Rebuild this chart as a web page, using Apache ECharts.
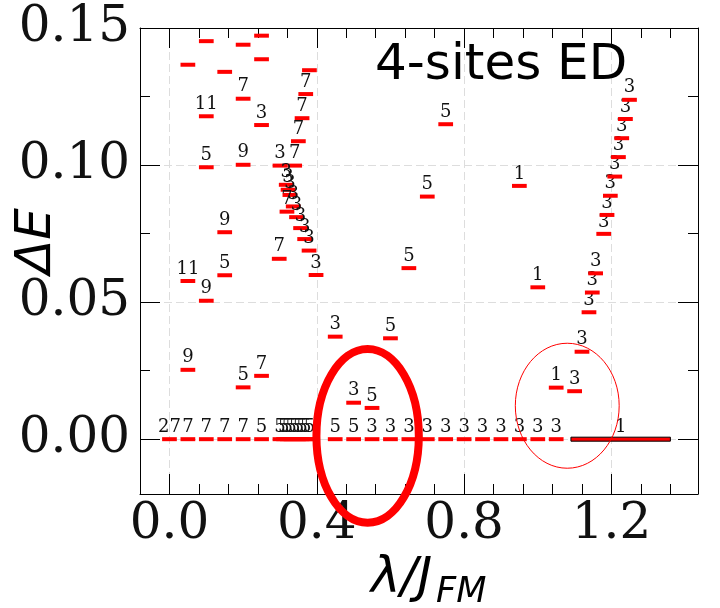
<!DOCTYPE html>
<html><head><meta charset="utf-8">
<script src="https://cdn.jsdelivr.net/npm/echarts@6/dist/echarts.min.js"></script>
<style>html,body{margin:0;padding:0;background:#fff}#c{width:720px;height:608px}</style>
</head><body><div id="c"></div>
<script>
// ---- axis ticks ----
const xTicks = [0, 0.4, 0.8, 1.2];
const xMinorTicks = [0.08, 0.16, 0.24, 0.32, 0.48, 0.56, 0.64, 0.72, 0.88, 0.96, 1.04, 1.12, 1.28, 1.36, 1.44];
const yTicks = [0, 0.05, 0.10, 0.15];
const yMinorTicks = [0.025, 0.075, 0.125];

// ---- ground-state levels (ΔE = 0) ----
const groundX = [0, 0.05, 0.10, 0.15, 0.20, 0.25, 0.30, 0.31, 0.32, 0.33, 0.34, 0.35, 0.36, 0.37, 0.38,
                 0.45, 0.50, 0.55, 0.60, 0.65, 0.70, 0.75, 0.80, 0.85, 0.90, 0.95, 1.00, 1.05];
const groundLabels = ['27', '7', '7', '7', '7', '5', '5', '5', '5', '5', '5', '5', '5', '5', '5',
                      '5', '5', '3', '3', '3', '3', '3', '3', '3', '3', '3', '3', '3'];
// wide ground-state segment [λ start, λ end, ΔE]
const wideGround = [1.09, 1.36, 0];
const wideGroundLabel = '1';

// ---- excited levels ----
const levelX = [0.10, 0.20, 0.25, 0.05, 0.15, 0.25, 0.38,
  0.37, 0.20, 0.10, 0.25, 0.36, 0.35, 0.10, 0.20, 0.30, 0.34,
  0.317, 0.322, 0.327, 0.336, 0.319, 0.345, 0.356, 0.367, 0.379, 0.398, 0.298,
  0.15, 0.15, 0.05, 0.10, 0.05, 0.20, 0.25,
  0.45, 0.50, 0.55, 0.60, 0.65, 0.70, 0.75,
  0.95, 1.00, 1.05,
  1.10, 1.12, 1.139, 1.148, 1.157, 1.179, 1.188, 1.197, 1.209, 1.219, 1.228, 1.238, 1.249];
const levelY = [0.1452, 0.1439, 0.1472, 0.1366, 0.1340, 0.1386, 0.1346,
  0.1259, 0.1242, 0.1178, 0.1146, 0.1171, 0.1087, 0.0992, 0.1001, 0.0998, 0.0998,
  0.0928, 0.0910, 0.0891, 0.0849, 0.0830, 0.0810, 0.0770, 0.0730, 0.0688, 0.0599, 0.0658,
  0.0755, 0.0598, 0.0577, 0.0505, 0.0253, 0.0189, 0.0231,
  0.0374, 0.0133, 0.0114, 0.0368, 0.0624, 0.0885, 0.1149,
  0.0924, 0.0554, 0.0188,
  0.0175, 0.0319, 0.0463, 0.0535, 0.0605, 0.0749, 0.0818, 0.0888, 0.0958, 0.1029, 0.1098, 0.1168, 0.1238];
const levelLabels = ['', '', '', '', '', '', '',
  '7', '7', '11', '3', '7', '7', '5', '9', '3', '7',
  '3', '3', '3', '3', '7', '3', '3', '3', '3', '3', '7',
  '9', '5', '11', '9', '9', '5', '7',
  '3', '3', '5', '5', '5', '5', '5',
  '1', '1', '1',
  '3', '3', '3', '3', '3', '3', '3', '3', '3', '3', '3', '3', '3'];

const XMIN = -0.08, XMAX = 1.435, YMIN = -0.02, YMAX = 0.15;
const HALF = 0.02, BAR_H = 4;
const RED = '#ff0000';
const LBL_FONT = '18px "DejaVu Serif"';

function levelItem(labels) {
  return function (params, api) {
    const x = api.value(0), y = api.value(1);
    const a = api.coord([x - HALF, y]), b = api.coord([x + HALF, y]);
    const kids = [{ type: 'rect', shape: { x: a[0], y: a[1] - BAR_H / 2, width: b[0] - a[0], height: BAR_H }, style: { fill: RED } }];
    const t = labels[params.dataIndex];
    if (t) kids.push({ type: 'text', style: { text: t, x: (a[0] + b[0]) / 2, y: a[1] - BAR_H / 2 - 1, fill: '#111', font: LBL_FONT,
      align: 'center', verticalAlign: 'bottom', textAlign: 'center', textVerticalAlign: 'bottom' } });
    return { type: 'group', children: kids };
  };
}

function xAx(pos, vals, len, withLabel, line, split) {
  return {
    type: 'value', min: XMIN, max: XMAX, position: pos,
    axisLine: { show: line, onZero: false, lineStyle: { color: '#000', width: 1 } },
    axisTick: { show: true, inside: true, length: len, customValues: vals, lineStyle: { color: '#000', width: 1 } },
    axisLabel: withLabel ? { show: true, customValues: vals, formatter: v => v.toFixed(1), fontFamily: 'DejaVu Serif', fontSize: 50, color: '#111', margin: 6 } : { show: false },
    splitLine: split ? { show: true, lineStyle: { color: '#dddddd', width: 1, type: [8, 4] } } : { show: false }
  };
}
function yAx(pos, vals, len, withLabel, line, split) {
  return {
    type: 'value', min: YMIN, max: YMAX, position: pos,
    axisLine: { show: line, onZero: false, lineStyle: { color: '#000', width: 1 } },
    axisTick: { show: true, inside: true, length: len, customValues: vals, lineStyle: { color: '#000', width: 1 } },
    axisLabel: withLabel ? { show: true, customValues: vals, formatter: v => v.toFixed(2), fontFamily: 'DejaVu Serif', fontSize: 50, color: '#111', margin: 10 } : { show: false },
    splitLine: split ? { show: true, lineStyle: { color: '#dddddd', width: 1, type: [8, 4] } } : { show: false }
  };
}

const chart = echarts.init(document.getElementById('c'), null, { renderer: 'canvas' });
chart.setOption({
  animation: false,
  backgroundColor: '#fff',
  grid: { left: 140, right: 22, top: 28, bottom: 114, containLabel: false },
  xAxis: [xAx('bottom', xTicks, 20, true, true, true), xAx('bottom', xMinorTicks, 10, false, false, false),
          xAx('top', xTicks, 20, false, true, false), xAx('top', xMinorTicks, 10, false, false, false)],
  yAxis: [yAx('left', yTicks, 20, true, true, true), yAx('left', yMinorTicks, 10, false, false, false),
          yAx('right', yTicks, 20, false, true, false), yAx('right', yMinorTicks, 10, false, false, false)],
  series: [
    { type: 'custom', xAxisIndex: 0, yAxisIndex: 0, data: groundX.map(x => [x, 0]), renderItem: levelItem(groundLabels), z: 3 },
    { type: 'custom', xAxisIndex: 0, yAxisIndex: 0, data: [wideGround], encode: { x: [0, 1], y: 2 }, z: 3,
      renderItem: function (params, api) {
        const a = api.coord([api.value(0), api.value(2)]), b = api.coord([api.value(1), api.value(2)]);
        return { type: 'group', children: [
          { type: 'rect', shape: { x: a[0], y: a[1] - BAR_H / 2, width: b[0] - a[0], height: BAR_H }, style: { fill: RED, stroke: '#000', lineWidth: 1 } },
          { type: 'text', style: { text: wideGroundLabel, x: (a[0] + b[0]) / 2, y: a[1] - BAR_H / 2 - 1, fill: '#111', font: LBL_FONT,
            align: 'center', verticalAlign: 'bottom', textAlign: 'center', textVerticalAlign: 'bottom' } }
        ] };
      } },
    { type: 'custom', xAxisIndex: 0, yAxisIndex: 0, data: levelX.map((x, i) => [x, levelY[i]]), renderItem: levelItem(levelLabels), z: 3 }
  ]
});

// annotations: ellipses (data-space centres / radii) and texts
function px(p) { return chart.convertToPixel({ xAxisIndex: 0, yAxisIndex: 0 }, p); }
const kx = px([1, 0])[0] - px([0, 0])[0];
const ky = px([0, 0])[1] - px([0, 1])[1];
const e1 = px([0.538, 0.0012]);
const e2 = px([1.080, 0.0122]);
chart.setOption({
  graphic: [
    { type: 'ellipse', shape: { cx: e1[0], cy: e1[1], rx: 0.139 * kx, ry: 0.0317 * ky }, style: { fill: 'none', stroke: RED, lineWidth: 8 }, z: 10 },
    { type: 'ellipse', shape: { cx: e2[0], cy: e2[1], rx: 0.141 * kx, ry: 0.0228 * ky }, style: { fill: 'none', stroke: RED, lineWidth: 1 }, z: 10 },
    { type: 'text', x: 375, y: 66, style: { text: '4-sites ED', font: '50px "DejaVu Sans"', fill: '#000', align: 'left', verticalAlign: 'middle', textAlign: 'left', textVerticalAlign: 'middle' }, z: 10 },
    { type: 'text', x: 37, y: 241, rotation: Math.PI / 2, style: { text: 'ΔE', x: 0, y: 0, font: 'italic 50px "DejaVu Sans"', fill: '#000', align: 'center', verticalAlign: 'middle', textAlign: 'center', textVerticalAlign: 'middle' }, z: 10 },
    { type: 'text', x: 371, y: 579, style: { text: 'λ/J', font: 'italic 50px "DejaVu Sans"', fill: '#000', align: 'left', verticalAlign: 'middle', textAlign: 'left', textVerticalAlign: 'middle' }, z: 10 },
    { type: 'text', x: 436, y: 593, style: { text: 'FM', font: 'italic 35px "DejaVu Sans"', fill: '#000', align: 'left', verticalAlign: 'middle', textAlign: 'left', textVerticalAlign: 'middle' }, z: 10 }
  ]
});
</script></body></html>
